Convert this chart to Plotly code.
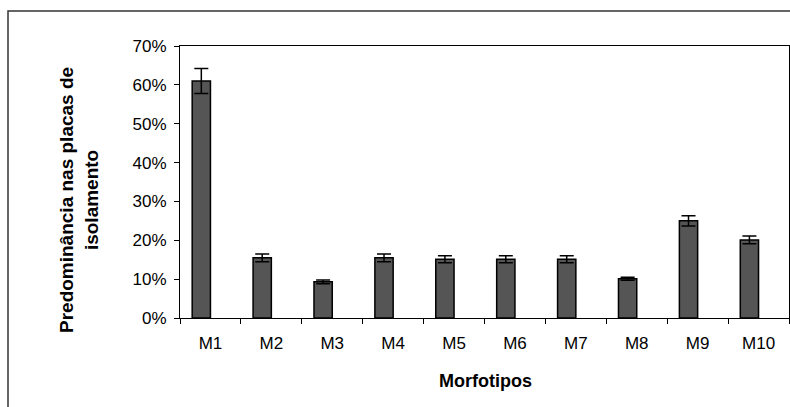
import plotly.graph_objects as go

categories = ["M1", "M2", "M3", "M4", "M5", "M6", "M7", "M8", "M9", "M10"]
predominance = [0.61, 0.155, 0.093, 0.155, 0.151, 0.151, 0.151, 0.101, 0.25, 0.201]
errors = [0.032, 0.010, 0.005, 0.010, 0.009, 0.009, 0.009, 0.004, 0.013, 0.010]
y_ticks = [0, 0.1, 0.2, 0.3, 0.4, 0.5, 0.6, 0.7]

W, H = 790, 407
L, R, T, B = 180, 1, 46, 89
pw = W - L - R
ph = H - T - B

def px(x):
    return (x - L) / pw

def py(y):
    return (H - B - y) / ph

font = "Arial, Liberation Sans, sans-serif"

fig = go.Figure()
fig.add_trace(go.Bar(
    x=categories, y=predominance,
    offset=-0.3, width=0.3,
    marker=dict(color="#555555", line=dict(color="black", width=1.5)),
    error_y=dict(type="data", array=errors, visible=True,
                 color="black", thickness=1.5, width=7),
    showlegend=False,
))

fig.update_layout(
    width=W, height=H,
    margin=dict(l=L, r=R, t=T, b=B),
    paper_bgcolor="white", plot_bgcolor="white",
    font=dict(family=font, color="black", size=16),
    xaxis=dict(
        type="category", tickson="boundaries", ticks="outside", ticklen=5,
        tickcolor="black", showline=True, linecolor="black", linewidth=1,
        mirror=True, showgrid=False, tickfont=dict(size=17), ticklabelstandoff=10,
    ),
    yaxis=dict(
        range=[0, 0.7], tickvals=y_ticks, tickformat=".0%", ticks="outside",
        ticklen=5, tickcolor="black", showline=True, linecolor="black",
        linewidth=1, mirror=True, showgrid=False, zeroline=False,
        tickfont=dict(size=17), ticklabelstandoff=4,
    ),
    shapes=[dict(
        type="rect", xref="paper", yref="paper",
        x0=px(8), y0=-0.6, x1=1.2, y1=py(11),
        line=dict(color="#333333", width=1.5), fillcolor="rgba(0,0,0,0)",
        layer="below",
    )],
    annotations=[
        dict(text="<b>Predominância nas placas de<br>isolamento</b>",
             xref="paper", yref="paper", x=px(79), y=py(200),
             textangle=-90, showarrow=False, font=dict(size=19),
             xanchor="center", yanchor="middle"),
        dict(text="<b>Morfotipos</b>", xref="paper", yref="paper",
             x=px(485), y=py(381), showarrow=False, font=dict(size=18),
             xanchor="center", yanchor="middle"),
    ],
)

fig.write_html("out.html", config={"displayModeBar": False},
               post_script="document.body.style.margin='0';document.body.style.overflow='hidden';")
